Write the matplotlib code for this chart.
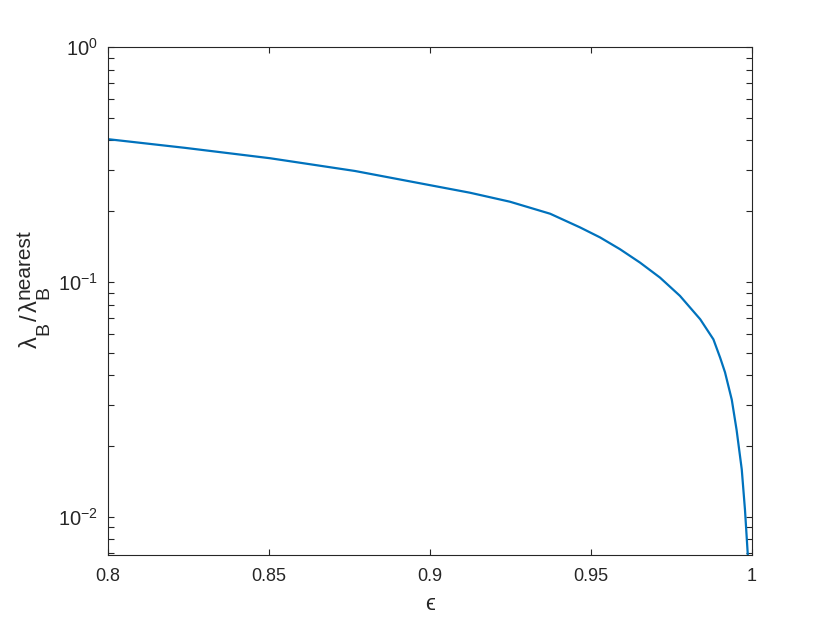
import math
import matplotlib
matplotlib.use("Agg")
import matplotlib.pyplot as plt
from matplotlib.ticker import FixedLocator, FuncFormatter, LogLocator
from matplotlib.transforms import IdentityTransform
from matplotlib.font_manager import FontProperties

plt.rcParams['font.family'] = ['Liberation Sans', 'DejaVu Sans']
plt.rcParams['mathtext.fontset'] = 'custom'
plt.rcParams['mathtext.rm'] = 'Liberation Sans'
plt.rcParams['mathtext.it'] = 'Liberation Sans:italic'
plt.rcParams['mathtext.bf'] = 'Liberation Sans:bold'

# data
eps = [0.8000, 0.8239, 0.8503, 0.8767, 0.9000, 0.9124, 0.9248, 0.9373,
       0.9466, 0.9528, 0.9590, 0.9652, 0.9714, 0.9776, 0.9839,
       0.9880, 0.9901, 0.9916, 0.9937, 0.9952, 0.9968, 0.9978, 0.9987]
ratio = [0.405, 0.372, 0.336, 0.2965, 0.258, 0.2396, 0.2194, 0.1950,
         0.1705, 0.1546, 0.1377, 0.1208, 0.1043, 0.0872, 0.0693,
         0.0569, 0.0475, 0.0412, 0.0315, 0.0234, 0.0159, 0.0107, 0.0068]
xticks = [0.8, 0.85, 0.9, 0.95, 1.0]

axc = '#262626'
W, H = 830, 623
fig = plt.figure(figsize=(W / 100, H / 100), dpi=100)
ax = fig.add_axes([0.1301, 0.1091, 0.776, 0.8155])
ax.plot(eps, ratio, color='#0072BD', lw=1.6)
ax.set_yscale('log')
ax.set_xlim(0.8, 1.0)
ax.set_ylim(0.00687, 1.0)
ax.xaxis.set_major_locator(FixedLocator(xticks))
ax.xaxis.set_major_formatter(FuncFormatter(lambda v, p: '%g' % v))
ax.yaxis.set_major_locator(LogLocator(base=10, numticks=10))
ax.yaxis.set_minor_locator(LogLocator(base=10, subs=range(2, 10), numticks=20))
ax.yaxis.set_major_formatter(FuncFormatter(
    lambda v, p: r'$\mathregular{10^{%d}}$' % round(math.log10(v))))
ax.tick_params(which='both', direction='in', top=True, right=True,
               color=axc, labelcolor=axc, width=0.8)
ax.tick_params(axis='x', labelsize=13, pad=9)
ax.tick_params(axis='y', labelsize=14.5, pad=7)
ax.tick_params(which='major', length=4.5)
ax.tick_params(which='minor', length=4.5)
ax.tick_params(axis='x', which='minor', top=False, bottom=False)
for s in ax.spines.values():
    s.set_color(axc)
    s.set_linewidth(0.8)
ax.set_xlabel('\u03f5', fontsize=16, color=axc, labelpad=7)

# y label built from pieces (MATLAB TeX style: large sub/superscripts)
renderer = fig.canvas.get_renderer()
base_x = 37.0
y = H - 348.0
main_fs, sub_fs, sup_fs = 17, 14, 15
sub_dx, sup_dx = 11.0, -7.5
# (text, size, baseline shift, extra gap after)
pieces = [('\u03bb', main_fs, 0.0, 1.5), ('B', sub_fs, sub_dx, 1.0),
          ('/', main_fs, 0.0, 1.5), ('\u03bb', main_fs, 0.0, 1.5)]
def put(s, fs, dx, ypos):
    fig.text(base_x + dx, ypos, s, rotation=90, rotation_mode='anchor',
             ha='left', va='baseline', fontsize=fs, color=axc,
             transform=IdentityTransform())
    fp = FontProperties(family=['Liberation Sans', 'DejaVu Sans'], size=fs)
    w, h, d = renderer.get_text_width_height_descent(s, fp, ismath=False)
    return w
for s, fs, dx, gap in pieces:
    y += put(s, fs, dx, y) + gap
put('B', sub_fs, sub_dx, y)
put('nearest', sup_fs, sup_dx, y)

fig.savefig('out.png', dpi=100)
